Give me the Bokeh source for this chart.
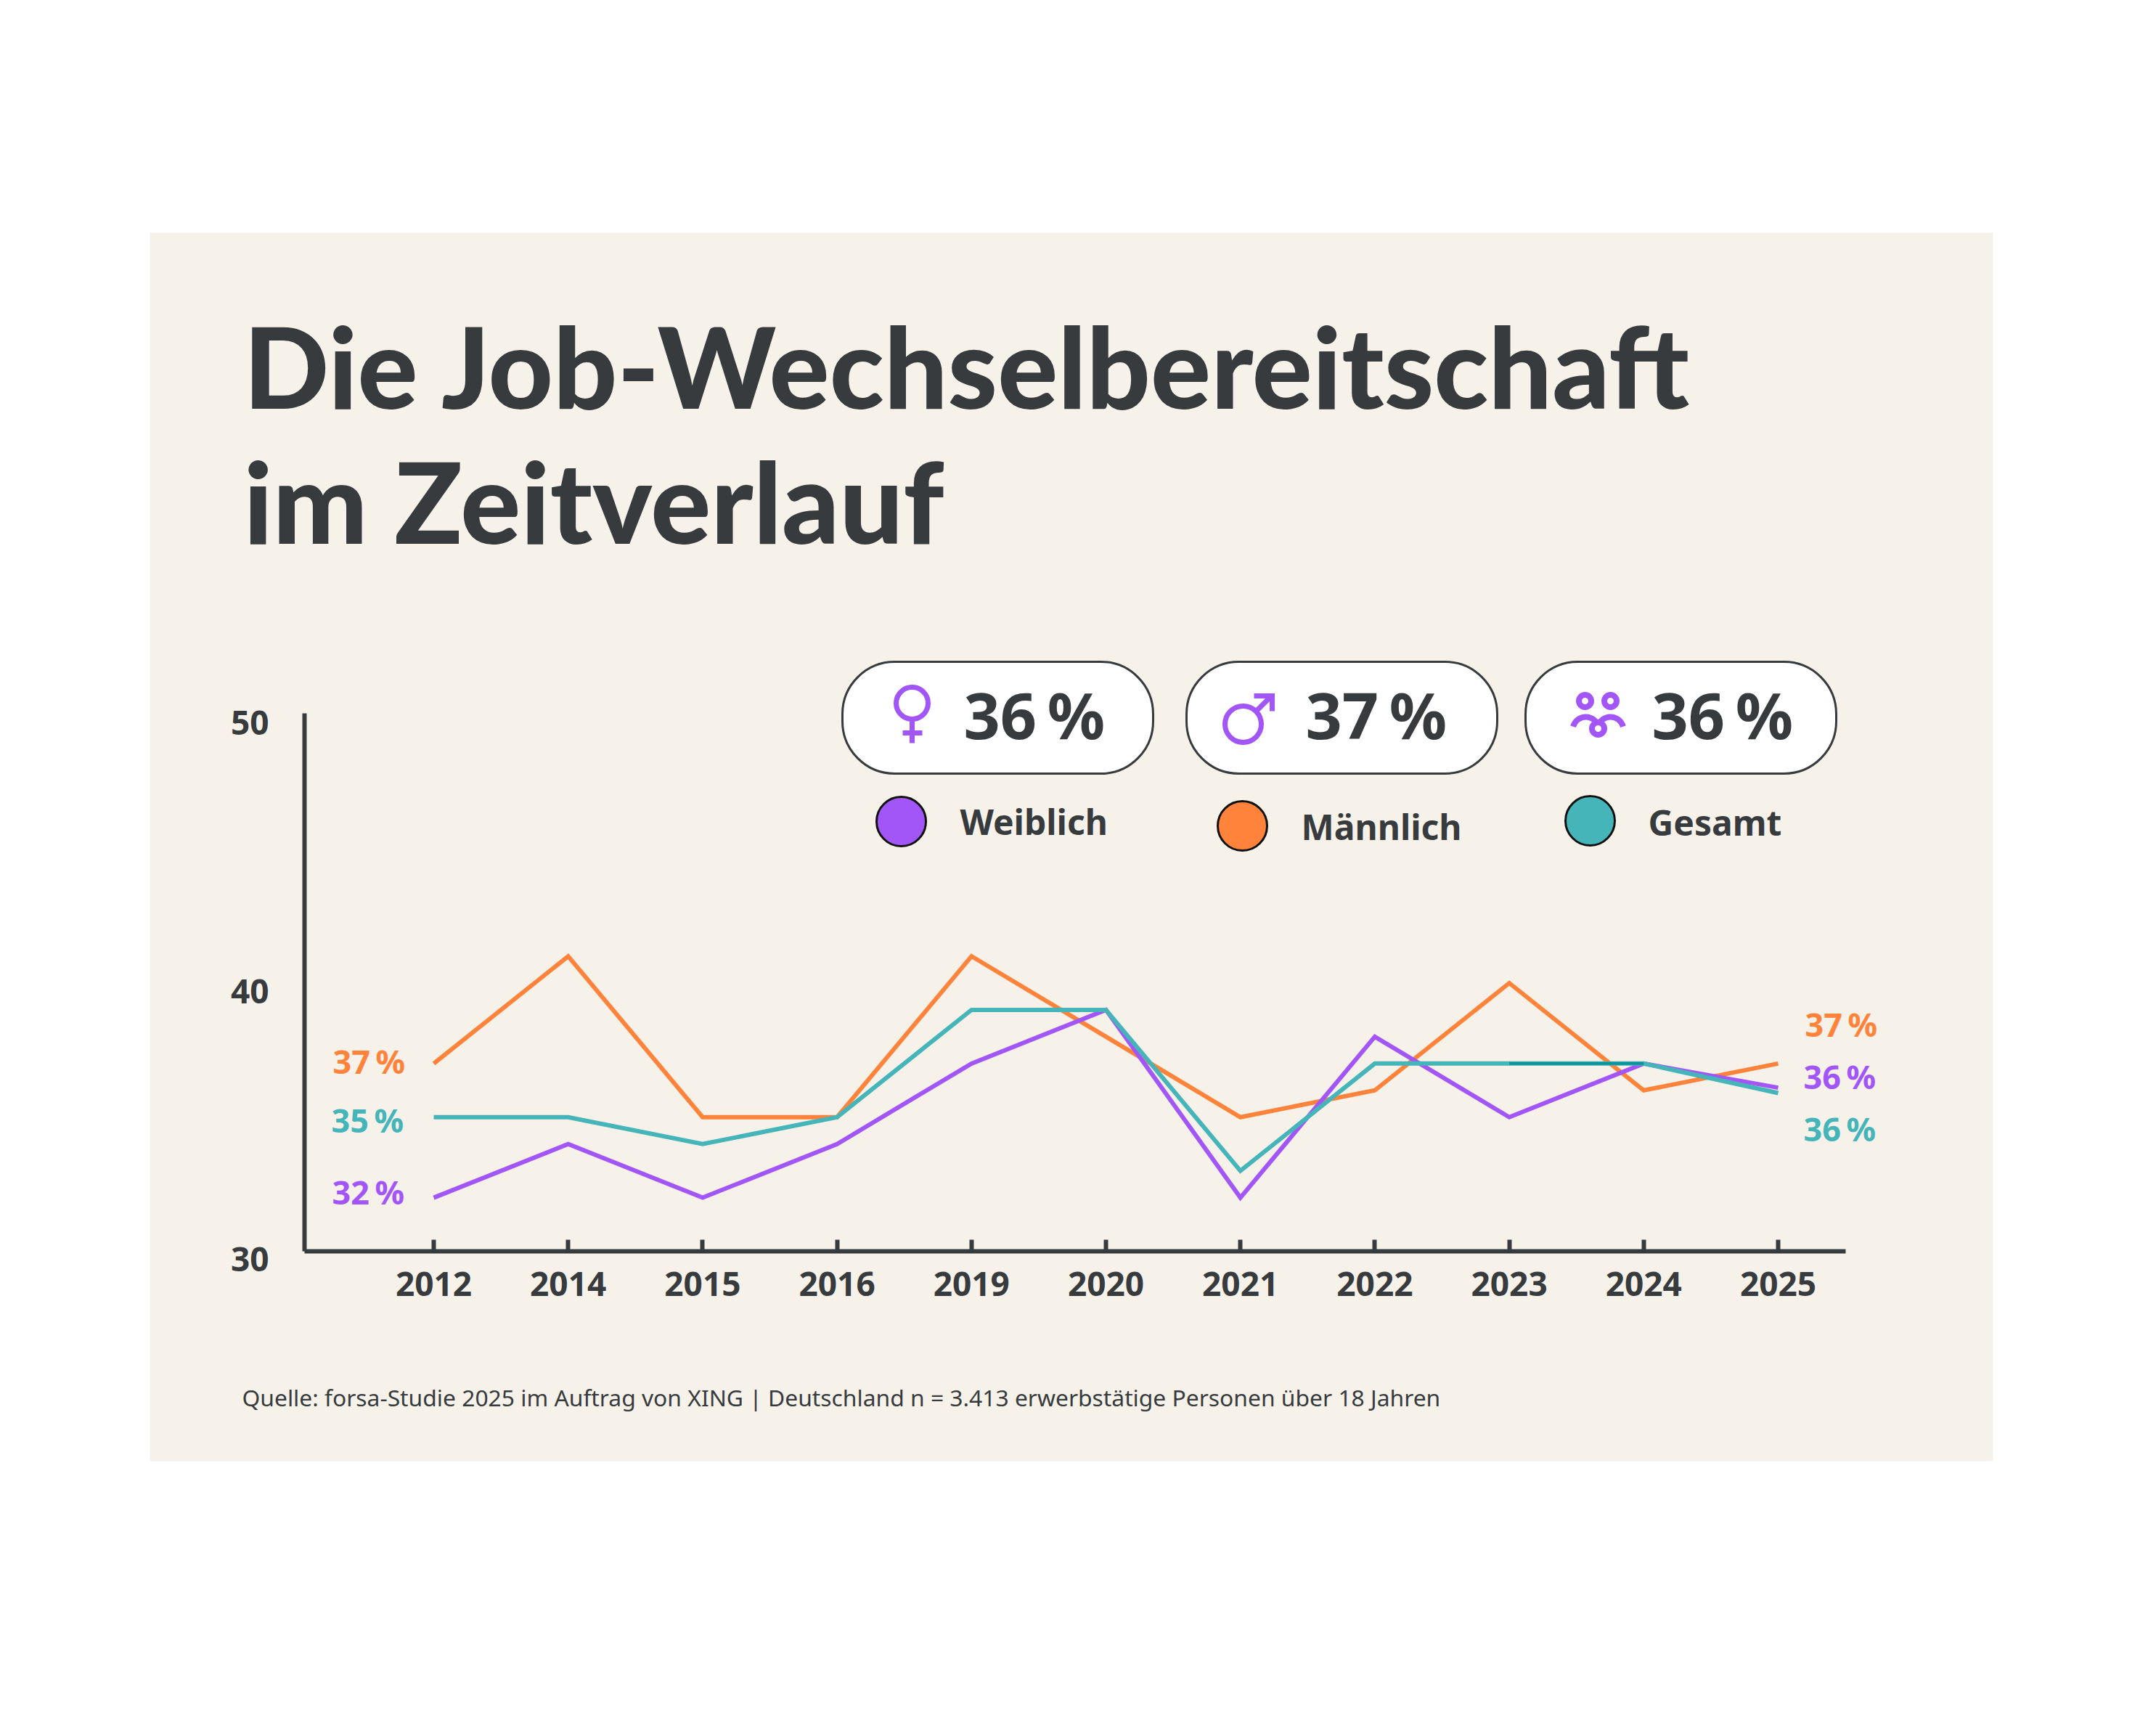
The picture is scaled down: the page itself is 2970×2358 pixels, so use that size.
import math
from bokeh.core.properties import value
from bokeh.embed import file_html
from bokeh.resources import INLINE
from bokeh.plotting import figure
from bokeh.models import Range1d, FixedTicker, BoxAnnotation, Column

# ---- data ----
years = ["2012", "2014", "2015", "2016", "2019", "2020", "2021", "2022", "2023", "2024", "2025"]
maennlich = [37, 41, 35, 35, 41, 38, 35, 36, 40, 36, 37]
weiblich = [32, 34, 32, 34, 37, 39, 32, 38, 35, 37, 36.1]
gesamt = [35, 35, 34, 35, 39, 39, 33, 37, 37, 37, 35.9]
y_ticks = [30, 40, 50]
title_lines = ["Die Job-Wechselbereitschaft", "im Zeitverlauf"]
source_text = "Quelle: forsa-Studie 2025 im Auftrag von XING | Deutschland n = 3.413 erwerbstätige Personen über 18 Jahren"
legend_names = ["Weiblich", "Männlich", "Gesamt"]
badge_values = ["36\u2009%", "37\u2009%", "36\u2009%"]

PURPLE = "#A356F8"
ORANGE = "#FF833A"
TEAL = "#45B5B9"
DARKTEAL = "#0E939B"
DARK = "#373B3E"
BEIGE = "#F6F2EA"
FONT = "Noto Sans"
TITLE_FONT = "Lato Black"

W, H = 2950, 2340
AX_L, AX_R, AX_T, AX_B = 419, 2542, 982, 1723
X0, DX = 597, 185.2
Y_UNIT = 36.95

# ---- background figure: page-pixel coordinates ----
bg = figure(width=W, height=H, output_backend="svg", toolbar_location=None,
            x_range=Range1d(0, W), y_range=Range1d(H, 0), frame_align=False,
            min_border=0, outline_line_color=None, background_fill_color="white",
            border_fill_color="white", x_axis_location=None, y_axis_location=None, margin=(0, 0, 0, 0))
bg.grid.visible = False
bg.add_layout(BoxAnnotation(left=206, right=2745, top=320, bottom=2012, fill_color=BEIGE, fill_alpha=1,
                            line_color=None, level="underlay"))


def text(x, baseline_y, s, color=DARK, size=46, style="bold", font=FONT):
    # the svg text sits about 0.4 em below the requested alphabetic line
    bg.text(x=[x], y=[baseline_y - 0.4 * size], text=[s], text_color=color, text_font=value(font),
            text_font_size=value(f"{size}px"), text_font_style=style, text_align="left",
            text_baseline="alphabetic")


text(335, 564, title_lines[0], size=155, style="normal", font=TITLE_FONT)
text(335, 750, title_lines[1], size=155, style="normal", font=TITLE_FONT)
text(333, 1937, source_text, size=31.8, style="normal")

text(458, 1479, f"{maennlich[0]}\u2009%", ORANGE, size=45)
text(456, 1560, f"{gesamt[0]}\u2009%", TEAL, size=45)
text(457, 1659, f"{weiblich[0]}\u2009%", PURPLE, size=45)
text(2486, 1428, f"{maennlich[-1]}\u2009%", ORANGE, size=45)
text(2484, 1500, f"{round(weiblich[-1])}\u2009%", PURPLE, size=45)
text(2484, 1572, f"{round(gesamt[-1])}\u2009%", TEAL, size=45)

for left, tx, s in zip([1160, 1634, 2101], [1327, 1798, 2275], badge_values):
    bg.add_layout(BoxAnnotation(left=left, right=left + 428, top=911, bottom=1065, fill_color="white",
                                fill_alpha=1, line_color=DARK, line_width=3, line_alpha=1,
                                border_radius=72, level="underlay"))
    text(tx, 1019, s, size=88)

for cx, cy, col, tx, by, s in zip([1241, 1711, 2190], [1131, 1137, 1130], [PURPLE, ORANGE, TEAL],
                                  [1322, 1792, 2270], [1150, 1157, 1151], legend_names):
    bg.circle(x=[cx], y=[cy], radius=34, fill_color=col, line_color="#111111", line_width=3)
    text(tx, by, s, size=48)


def ring(cx, cy, r, w=7):
    bg.circle(x=[cx], y=[cy], radius=r, fill_color=None, line_color=PURPLE, line_width=w)


def stroke(xs, ys, w=7):
    bg.line(xs, ys, line_color=PURPLE, line_width=w, line_join="miter", line_cap="butt")


def arc(cx, cy, r, a0, a1, w=8, n=24):
    angs = [math.radians(a0 + (a1 - a0) * i / n) for i in range(n + 1)]
    stroke([cx + r * math.cos(a) for a in angs], [cy - r * math.sin(a) for a in angs], w)


ring(1256, 968, 22)
stroke([1256, 1256], [990, 1023])
stroke([1243, 1270], [1009, 1009])

ring(1712, 997, 25)
stroke([1730, 1752], [979, 957])
stroke([1727, 1752, 1752], [958, 958, 979])

ring(2183, 965, 8.5, 8)
ring(2218, 965, 8.5, 8)
ring(2201, 1003, 8.5, 8)
arc(2184, 1005, 18, 165, 30)
arc(2218, 1005, 18, 150, 15)

# ---- chart figure ----
y_end = 30 + (AX_B - AX_T) / Y_UNIT
p = figure(width=W, height=H, output_backend="svg", toolbar_location=None, frame_align=False,
           x_range=Range1d((AX_L - X0) / DX, (AX_R - X0) / DX), y_range=Range1d(30, y_end),
           min_border_left=AX_L, min_border_right=W - AX_R, min_border_top=AX_T,
           min_border_bottom=H - AX_B, background_fill_color=None, border_fill_color=None,
           outline_line_color=None, margin=(-H, 0, 0, 0))
p.grid.visible = False


def label_style(a):
    a.major_label_text_color = DARK
    a.major_label_text_font = FONT
    a.major_label_text_font_style = "bold"
    a.major_label_text_font_size = "46px"


xa = p.xaxis[0]
xa.ticker = FixedTicker(ticks=list(range(len(years))))
xa.major_label_overrides = {i: y for i, y in enumerate(years)}
ya = p.yaxis[0]
ya.ticker = FixedTicker(ticks=y_ticks)
for a in (xa, ya):
    a.axis_line_color = DARK
    a.axis_line_width = 6
    a.major_tick_line_color = DARK
    a.major_tick_line_width = 6
    a.minor_tick_line_color = None
    label_style(a)
xa.major_tick_in = 16
xa.major_tick_out = 0
xa.major_label_standoff = 28
ya.major_tick_in = 0
ya.major_tick_out = 0
ya.major_label_text_color = None

xs = list(range(len(years)))
p.line(xs, maennlich, line_color=ORANGE, line_width=6, line_join="miter")
p.line(xs, weiblich, line_color=PURPLE, line_width=6, line_join="miter")
p.line(xs, gesamt, line_color=TEAL, line_width=6, line_join="miter")
p.line(xs[8:10], gesamt[8:10], line_color=DARKTEAL, line_width=4)

# ---- y tick labels, sitting a little below their ticks as in the original ----
LAB_SHIFT = 11
q = figure(width=W, height=H, output_backend="svg", toolbar_location=None, frame_align=False,
           x_range=Range1d(0, 1), y_range=Range1d(30, y_end),
           min_border_left=AX_L, min_border_right=W - AX_R, min_border_top=AX_T + LAB_SHIFT,
           min_border_bottom=H - AX_B - LAB_SHIFT, background_fill_color=None, border_fill_color=None,
           outline_line_color=None, x_axis_location=None, margin=(-H, 0, 0, 0))
q.grid.visible = False
qa = q.yaxis[0]
qa.ticker = FixedTicker(ticks=y_ticks)
qa.axis_line_color = None
qa.major_tick_line_color = None
qa.minor_tick_line_color = None
qa.major_tick_in = 0
qa.major_tick_out = 0
qa.major_label_standoff = 49
label_style(qa)

page = Column(children=[bg, q, p], width=W, height=H, spacing=0)
open("out.html", "w").write(file_html(page, INLINE))
